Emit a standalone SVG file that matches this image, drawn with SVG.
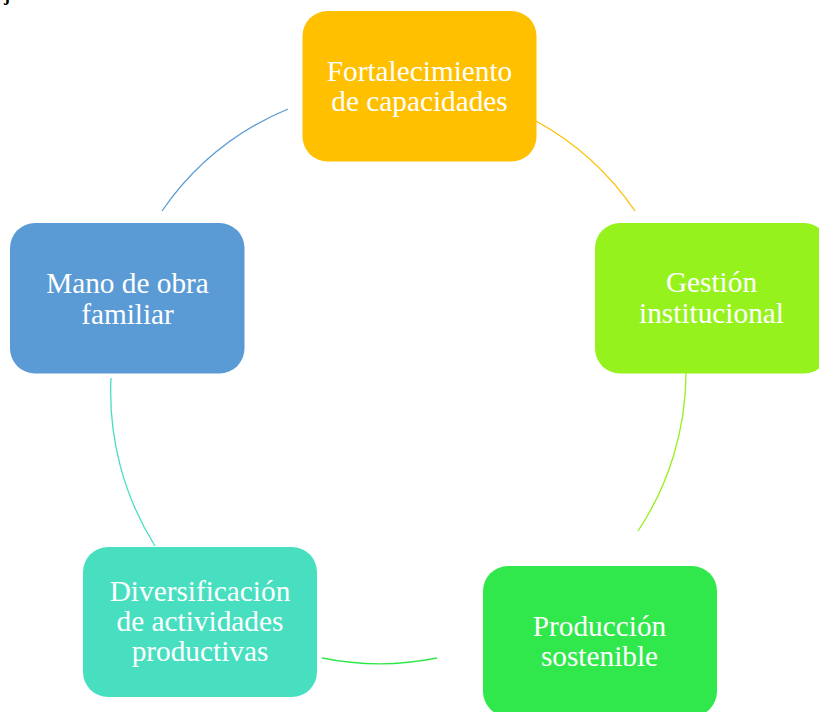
<svg xmlns="http://www.w3.org/2000/svg" width="819" height="712" viewBox="0 0 819 712">
<style>
.box{stroke:none}
.lbl{font-family:"Liberation Serif","Times New Roman",serif;font-size:29.3px;fill:#ffffff;text-anchor:middle}
.arc{fill:none;stroke-width:1.3}
</style>
<rect width="819" height="712" fill="#ffffff"/>
<text x="4" y="1" font-family="Liberation Serif, serif" font-weight="bold" font-size="18" fill="#000">j</text>
<g id="connectors">
<path class="arc" stroke="#FFC000" d="M536,121 A287,287 0 0 1 635,211"/>
<path class="arc" stroke="#96F01E" d="M686,373 A287,287 0 0 1 638,531"/>
<path class="arc" stroke="#2EE84A" d="M437,658 A290,290 0 0 1 322,658"/>
<path class="arc" stroke="#48DFC1" d="M155,546 A290,290 0 0 1 111,378"/>
<path class="arc" stroke="#5B9BD5" d="M162,211 A287,287 0 0 1 288,109"/>
</g>
<g id="n1">
<rect class="box" x="302.5" y="11" width="234" height="150.5" rx="25" fill="#FFC000"/>
<text class="lbl" x="419.5" y="80.5">Fortalecimiento</text>
<text class="lbl" x="419.5" y="111">de capacidades</text>
</g>
<g id="n2">
<rect class="box" x="595" y="223" width="234" height="150.5" rx="25" fill="#96F21D"/>
<text class="lbl" x="711.5" y="292">Gestión</text>
<text class="lbl" x="711.5" y="323">institucional</text>
</g>
<g id="n3">
<rect class="box" x="483" y="566" width="234" height="150.5" rx="25" fill="#30E84B"/>
<text class="lbl" x="599.5" y="636">Producción</text>
<text class="lbl" x="599.5" y="666">sostenible</text>
</g>
<g id="n4">
<rect class="box" x="83" y="547" width="234" height="150" rx="25" fill="#48DFC1"/>
<text class="lbl" x="200" y="601">Diversificación</text>
<text class="lbl" x="200" y="631">de actividades</text>
<text class="lbl" x="200" y="661">productivas</text>
</g>
<g id="n5">
<rect class="box" x="10" y="223" width="234.5" height="150.5" rx="25" fill="#5B9BD5"/>
<text class="lbl" x="127.5" y="292.5">Mano de obra</text>
<text class="lbl" x="127.5" y="323.5">familiar</text>
</g>
</svg>
